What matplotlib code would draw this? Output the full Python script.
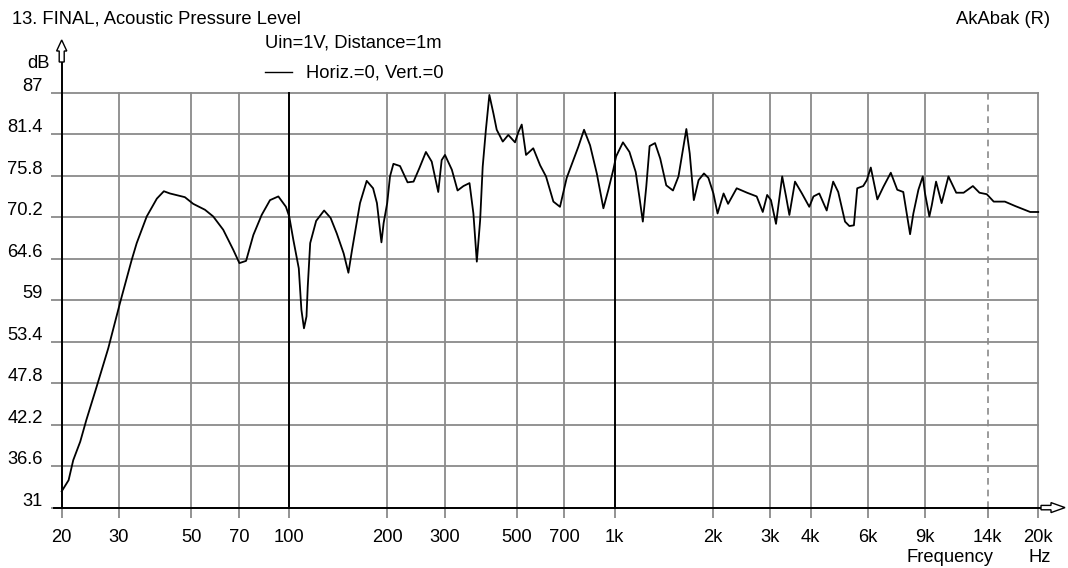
import matplotlib
matplotlib.use("Agg")
import matplotlib.pyplot as plt
from matplotlib.patches import Polygon

plt.rcParams["font.family"] = ["Liberation Sans", "DejaVu Sans"]
plt.rcParams["font.size"] = 13.2

# measured response, horizontal 0 / vertical 0
freq_hz = [
    20, 21.0, 21.7, 22.8, 23.8, 25.6, 27.8, 30.2, 32.8, 34.0, 36.5, 39.2,
    41.2, 43.0, 47.8, 50.7, 55.1, 58.4, 62.7, 67.3, 70.3, 73.7, 77.6, 82.3,
    87.3, 92.6, 97.7,
    100, 103, 107, 109, 111, 113, 114, 116, 121, 128, 134, 140, 147, 152,
    156, 165, 173, 181, 186, 192, 195, 200, 204, 209, 219, 231, 241, 251,
    263, 274, 287, 294, 301, 316, 329, 343, 358, 368, 377, 386, 393, 402,
    412, 424, 434, 453, 471, 494, 506, 518, 534, 562, 590, 615, 648, 679,
    712, 746, 773, 805, 840, 881, 923,
    956, 990, 1010, 1060, 1110, 1160, 1190, 1220, 1250, 1280, 1330, 1380,
    1440, 1510, 1570, 1620, 1660, 1700, 1750, 1810, 1880, 1940, 2010, 2070,
    2160, 2230, 2370, 2550, 2730, 2850, 2940, 3020, 3130, 3180, 3270, 3360,
    3440, 3580, 3760, 3960, 4080, 4250, 4480, 4690, 4860, 5100, 5260, 5430,
    5560, 5800, 5950, 6120, 6260, 6410, 6690, 7050, 7380, 7700, 7890, 8080,
    8270, 8570, 8840, 8980, 9260, 9420, 9710, 10100, 10600, 11200, 11800,
    12600, 13200, 13900, 14600, 15800, 17000, 18900, 20000,
]
spl_db = [
    33.2, 34.7, 37.4, 39.9, 42.8, 47.3, 52.5, 58.6, 64.4, 66.7, 70.3, 72.7,
    73.7, 73.4, 72.9, 72.0, 71.2, 70.3, 68.5, 65.8, 64.0, 64.3, 67.8, 70.5,
    72.5, 73.0, 71.6,
    70.3, 67.1, 63.3, 57.7, 55.2, 56.8, 60.8, 66.7, 69.7, 71.1, 70.1, 68.0,
    65.3, 62.7, 65.8, 72.1, 75.1, 74.1, 72.1, 66.8, 69.4, 72.1, 75.7, 77.4,
    77.1, 74.9, 75.0, 76.8, 79.0, 77.7, 73.6, 77.9, 78.6, 76.6, 73.8, 74.4,
    74.8, 70.7, 64.2, 69.8, 77.0, 82.0, 86.7, 84.2, 82.0, 80.4, 81.3, 80.3,
    81.7, 82.7, 78.6, 79.5, 77.2, 75.7, 72.3, 71.6, 75.5, 77.9, 79.7, 82.0,
    79.9, 76.1, 71.4,
    73.9, 76.6, 78.4, 80.3, 79.0, 76.3, 73.0, 69.6, 74.3, 79.8, 80.2, 78.1,
    74.5, 73.8, 75.7, 79.3, 82.1, 78.8, 72.5, 75.2, 76.1, 75.5, 73.4, 70.7,
    73.4, 72.0, 74.1, 73.5, 73.0, 70.9, 73.2, 72.5, 69.3, 71.6, 75.7, 73.0,
    70.5, 75.0, 73.4, 71.6, 73.0, 73.4, 71.1, 75.0, 73.6, 69.6, 69.0, 69.1,
    74.1, 74.4, 75.2, 76.9, 74.8, 72.6, 74.3, 76.2, 73.9, 73.6, 70.7, 67.9,
    70.7, 73.9, 75.7, 73.4, 70.3, 71.8, 75.0, 72.1, 75.7, 73.5, 73.5, 74.4,
    73.5, 73.3, 72.3, 72.3, 71.7, 70.9, 70.9,
]

x_ticks = [20, 30, 50, 70, 100, 200, 300, 500, 700, 1000, 2000, 3000,
           4000, 6000, 9000, 14000, 20000]
x_labels = ["20", "30", "50", "70", "100", "200", "300", "500", "700", "1k",
            "2k", "3k", "4k", "6k", "9k", "14k", "20k"]
y_ticks = [31, 36.6, 42.2, 47.8, 53.4, 59, 64.6, 70.2, 75.8, 81.4, 87]
y_labels = ["31", "36.6", "42.2", "47.8", "53.4", "59", "64.6", "70.2",
            "75.8", "81.4", "87"]

GRID = "#8a8a8a"
W, H = 1068, 568


def fig_xy(x, y):
    # pixel position (from top-left) -> figure fraction
    return x / W, 1 - y / H


fig = plt.figure(figsize=(W / 100, H / 100), dpi=100)
x0, x1, y0, y1 = 61.7, 1038.2, 92.7, 507.6
ax = fig.add_axes([x0 / W, 1 - y1 / H, (x1 - x0) / W, (y1 - y0) / H])
ax.set_frame_on(False)
ax.set_xscale("log")
ax.set_xlim(20, 20000)
ax.set_ylim(31, 87)

ax.set_xticks(x_ticks)
ax.set_xticks([], minor=True)
ax.set_yticks(y_ticks)
ax.tick_params(axis="x", length=7, width=1.3, color=GRID, labelbottom=False)
ax.tick_params(axis="y", length=8, width=1.3, color=GRID, labelleft=False)
for t, v in zip(ax.xaxis.get_major_ticks(), x_ticks):
    if v in (100, 1000):
        t.tick1line.set_color("black")

# grid
for v in y_ticks:
    ax.axhline(v, color=GRID, lw=1.3, zorder=1, clip_on=False)
for v in x_ticks:
    if v in (100, 1000):
        ax.axvline(v, color="black", lw=1.4, zorder=2, clip_on=False)
    elif v == 14000:
        ax.axvline(v, color=GRID, lw=1.2, ls=(0, (4, 3)), zorder=1, clip_on=False)
    else:
        ax.axvline(v, color=GRID, lw=1.3, zorder=1, clip_on=False)

# curve
ax.plot(freq_hz, spl_db, color="black", lw=1.3, zorder=4, clip_on=False)

# axes with arrows
span_x = x1 - x0
span_y = y1 - y0
ax.plot([-8 / span_x, (1041 - x0) / span_x], [0, 0], color="black", lw=1.4,
        transform=ax.transAxes, clip_on=False, zorder=5)
ax.plot([0, 0], [0, (y1 - 62) / span_y], color="black", lw=1.4,
        transform=ax.transAxes, clip_on=False, zorder=5)

up_arrow = [(61.7, 40), (66.8, 51), (64.2, 51), (64.2, 62), (59.2, 62),
            (59.2, 51), (56.6, 51)]
right_arrow = [(1065, 507.6), (1051, 502.6), (1051, 505.4), (1041, 505.4),
               (1041, 509.8), (1051, 509.8), (1051, 512.6)]
for pts in (up_arrow, right_arrow):
    fig.add_artist(Polygon([fig_xy(px, py) for px, py in pts], closed=True,
                           facecolor="white", edgecolor="black", lw=1.0,
                           transform=fig.transFigure, zorder=6))

# tick labels
for v, s in zip(x_ticks, x_labels):
    ax.annotate(s, xy=(v, 0), xycoords=("data", "axes fraction"),
                xytext=(0, -34), textcoords="offset pixels",
                ha="center", va="baseline")
for v, s in zip(y_ticks, y_labels):
    ax.annotate(s, xy=(0, v), xycoords=("axes fraction", "data"),
                xytext=(-18.7, 2), textcoords="offset pixels",
                ha="right", va="baseline")

# headings and legend
fig.text(*fig_xy(12, 24), "13. FINAL, Acoustic Pressure Level", va="baseline")
fig.text(*fig_xy(1050, 24), "AkAbak (R)", ha="right", va="baseline")
fig.text(*fig_xy(265, 48), "Uin=1V, Distance=1m", va="baseline")
fig.add_artist(plt.Line2D([265 / W, 292 / W], [1 - 71.7 / H] * 2,
                          color="black", lw=1.0, transform=fig.transFigure))
fig.text(*fig_xy(306, 77), "Horiz.=0, Vert.=0", va="baseline")
fig.text(*fig_xy(27, 68), "dB", va="baseline")
fig.text(*fig_xy(906, 561.5), "Frequency", va="baseline")
fig.text(*fig_xy(1029, 561.5), "Hz", va="baseline")

fig.savefig("out.png", dpi=100)
